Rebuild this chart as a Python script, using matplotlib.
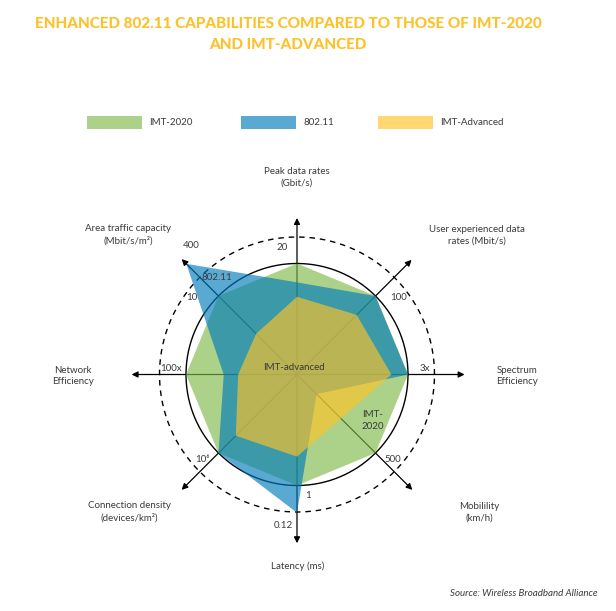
import matplotlib
matplotlib.use("Agg")
import matplotlib.pyplot as plt
import numpy as np
from matplotlib.patches import Rectangle

# axes of the radar, clockwise from the top
axis_names = ["Peak data rates\n(Gbit/s)", "User experienced data\nrates (Mbit/s)",
              "Spectrum\nEfficiency", "Mobilility\n(km/h)", "Latency (ms)",
              "Connection density\n(devices/km²)", "Network\nEfficiency",
              "Area traffic capacity\n(Mbit/s/m²)"]
angles_deg = [90, 45, 0, -45, -90, -135, 180, 135]

# relative values (1 = IMT-2020 requirement circle)
imt2020 = [1.0, 1.0, 1.0, 1.0, 1.0, 1.0, 1.0, 1.0]
wifi = [0.83, 1.0, 1.0, 0.25, 1.245, 1.0, 0.66, 1.41]
imt_adv = [0.70, 0.76, 0.85, 0.56, 0.74, 0.78, 0.53, 0.52]

series_names = ["IMT-2020", "802.11", "IMT-Advanced"]
colors = ["#7fbb48", "#007bba", "#ffc328"]
ALPHA = 0.65

# figure geometry (pixels)
W, H = 616, 611
cx, cy, R = 297, 374.5, 111.0

plt.rcParams['font.family'] = ['Lato', 'DejaVu Sans']
txt_col = "#3a3a3a"
FS = 7

fig = plt.figure(figsize=(W / 100, H / 100), dpi=100)
ax = fig.add_axes([0, 0, 1, 1])
ax.set_xlim(-cx / R, (W - cx) / R)
ax.set_ylim(-(H - cy) / R, cy / R)
ax.axis('off')


def px(x, y):
    return (x - cx) / R, (cy - y) / R


ang = np.radians(angles_deg)

# axis arrows
arrow_len = [1.41, 1.46, 1.51, 1.47, 1.52, 1.47, 1.49, 1.47]
for a, L in zip(ang, arrow_len):
    ax.annotate('', xy=(L * np.cos(a), L * np.sin(a)), xytext=(0, 0),
                arrowprops=dict(arrowstyle='-|>', color='black', lw=0.9,
                                mutation_scale=9, shrinkA=0, shrinkB=0),
                zorder=1)

# circles
t = np.linspace(0, 2 * np.pi, 400)
ax.plot(np.cos(t), np.sin(t), color='black', lw=1.0, zorder=1)
rd = 137.5 / R
ax.plot(rd * np.cos(t), rd * np.sin(t), color='black', lw=1.0,
        dashes=(4, 3.5), zorder=1)

# polygons
for vals, c in zip([imt2020, wifi, imt_adv], colors):
    v = np.array(vals)
    ax.fill(v * np.cos(ang), v * np.sin(ang), color=c, alpha=ALPHA, lw=0, zorder=3)

# title
title_col = "#fdc22a"
fig.text(288 / W, 1 - 24 / H, "ENHANCED 802.11 CAPABILITIES COMPARED TO THOSE OF IMT-2020",
         ha='center', va='center', fontsize=11, fontweight='black', color=title_col)
fig.text(288 / W, 1 - 45 / H, "AND IMT-ADVANCED",
         ha='center', va='center', fontsize=11, fontweight='black', color=title_col)

# legend
leg_x = [87, 241, 378]
for name, c, lx in zip(series_names, colors, leg_x):
    x0, y0 = px(lx, 128.5)
    ax.add_patch(Rectangle((x0, y0), 55 / R, 12.5 / R, color=c, alpha=ALPHA, lw=0))
    tx, ty = px(lx + 62, 122.5)
    ax.text(tx, ty, name, ha='left', va='center', fontsize=FS, color=txt_col)

# axis titles
name_pos = [(297, 177), (477, 235), (517, 376), (479, 512), (298, 566),
            (129, 512), (73, 376), (128, 235)]
for name, (x, y) in zip(axis_names, name_pos):
    ax.text(*px(x, y), name, ha='center', va='center', fontsize=FS,
            color=txt_col, linespacing=1.35)

# scale labels
scale_labels = [("20", 282.5, 248), ("400", 191.7, 246), ("10", 192, 298),
                ("100", 399, 298), ("100x", 171, 368.5), ("3x", 425, 368.5),
                ("500", 393, 459), ("10⁶", 202, 459), ("1", 308, 496),
                ("0.12", 283, 525)]
for s, x, y in scale_labels:
    ax.text(*px(x, y), s, ha='center', va='center', fontsize=FS, color=txt_col, zorder=5)

# series labels in the chart
ax.text(*px(216.7, 277), "802.11", ha='center', va='center', fontsize=FS, color=txt_col, zorder=5)
ax.text(*px(294.5, 367), "IMT-advanced", ha='center', va='center', fontsize=FS, color=txt_col, zorder=5)
ax.text(*px(373, 420.5), "IMT-\n2020", ha='center', va='center', fontsize=FS,
        color=txt_col, linespacing=1.35, zorder=5)

fig.text(598 / W, 1 - 594 / H, "Source: Wireless Broadband Alliance", ha='right', va='center',
         fontsize=FS, style='italic', color=txt_col)

fig.savefig("out.png", dpi=100)
